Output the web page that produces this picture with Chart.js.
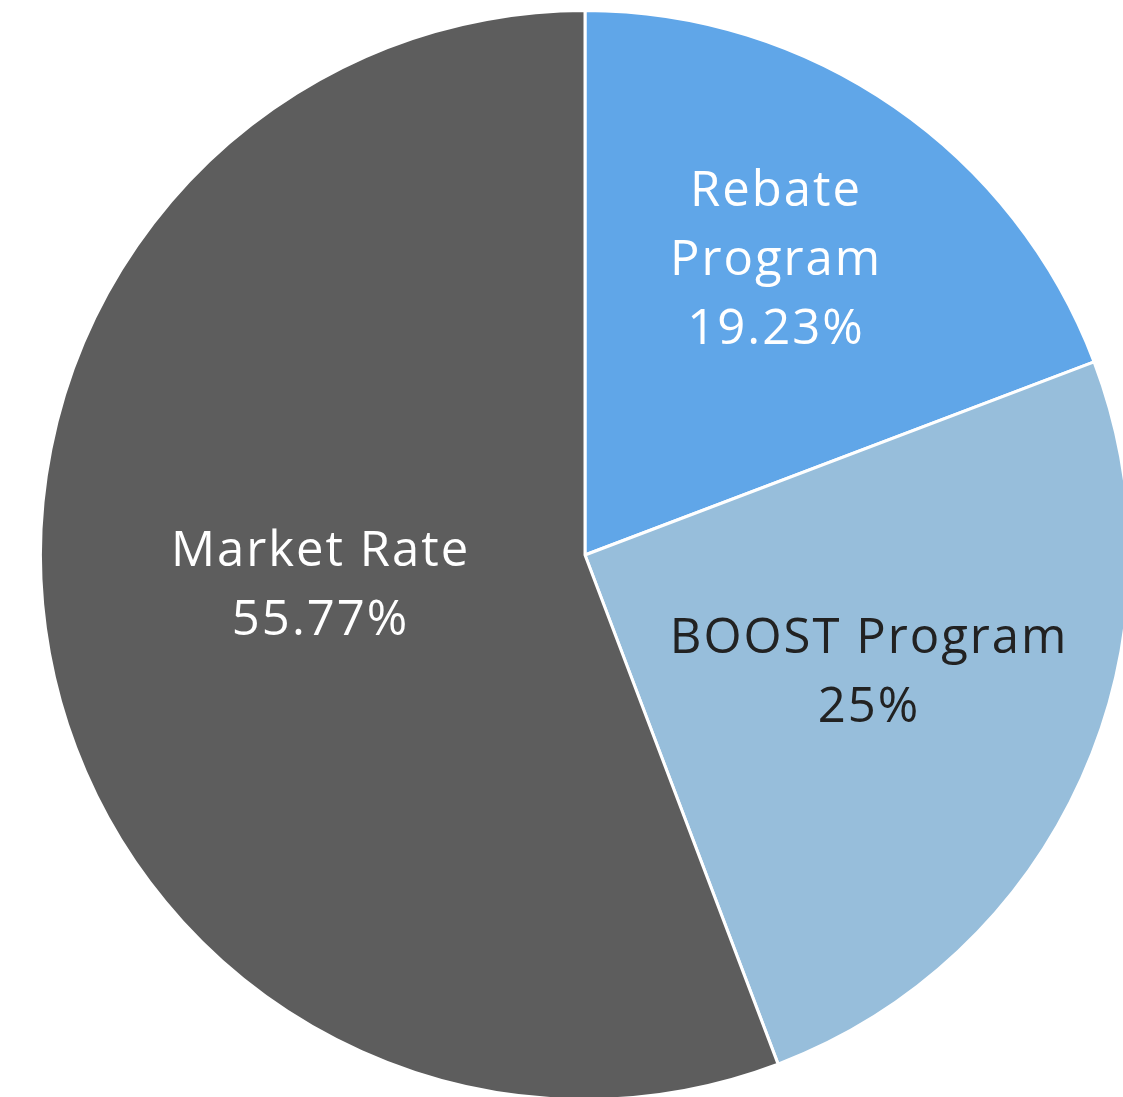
<!DOCTYPE html>
<html>

<head>
    <title>Program Share</title>
    <script src="https://cdn.jsdelivr.net/npm/chart.js"></script>
    <style>
        html, body { margin: 0; padding: 0; background: #fff; overflow: hidden; width: 1123px; height: 1097px; }
        .pie-chart { position: absolute; left: 39px; top: 9px; width: 1092px; height: 1092px; }
    </style>
</head>

<body>
    <div class="pie-chart">
        <canvas id="chart" width="1092" height="1092"></canvas>
    </div>

    <script type="text/javascript">
        const labels = ['Rebate Program', 'BOOST Program', 'Market Rate']
        const shares = [19.23, 25, 55.77]
        const labelLines = [['Rebate', 'Program', '19.23%'], ['BOOST Program', '25%'], ['Market Rate', '55.77%']]

        const colors = ['#60a6e8', '#97bedb', '#5d5d5d']
        const textColors = ['#ffffff', '#222222', '#ffffff']
        // how far out along the slice middle the label sits, plus a small nudge
        const labelDist = [0.65, 0.56, 0.49]
        const labelNudge = [[-11, -3], [5, -7], [-3, -17]]

        const sliceLabels = {
            id: 'sliceLabels',
            afterDatasetsDraw(chart) {
                const ctx = chart.ctx
                const arcs = chart.getDatasetMeta(0).data
                ctx.save()
                ctx.font = '400 49px "Open Sans"'
                ctx.letterSpacing = '2px'
                ctx.textAlign = 'center'
                ctx.textBaseline = 'middle'
                arcs.forEach((arc, i) => {
                    const mid = (arc.startAngle + arc.endAngle) / 2
                    const r = arc.outerRadius * labelDist[i]
                    const cx = arc.x + Math.cos(mid) * r + labelNudge[i][0]
                    const cy = arc.y + Math.sin(mid) * r + labelNudge[i][1]
                    const lines = labelLines[i]
                    const lh = 69
                    ctx.fillStyle = textColors[i]
                    lines.forEach((t, j) => {
                        ctx.fillText(t, cx + 1, cy + (j - (lines.length - 1) / 2) * lh)
                    })
                })
                ctx.restore()
            }
        }

        const ctx = document.getElementById('chart');
        let chart = new Chart(ctx, {
            type: 'pie',
            data: {
                labels: labels,
                datasets: [{
                    data: shares,
                    backgroundColor: colors,
                    borderColor: '#ffffff',
                    borderWidth: 3,
                    hoverOffset: 0
                }]
            },
            options: {
                responsive: false,
                animation: false,
                layout: { padding: 0 },
                plugins: {
                    legend: { display: false },
                    tooltip: { enabled: false }
                }
            },
            plugins: [sliceLabels]
        })
    </script>
</body>

</html>
